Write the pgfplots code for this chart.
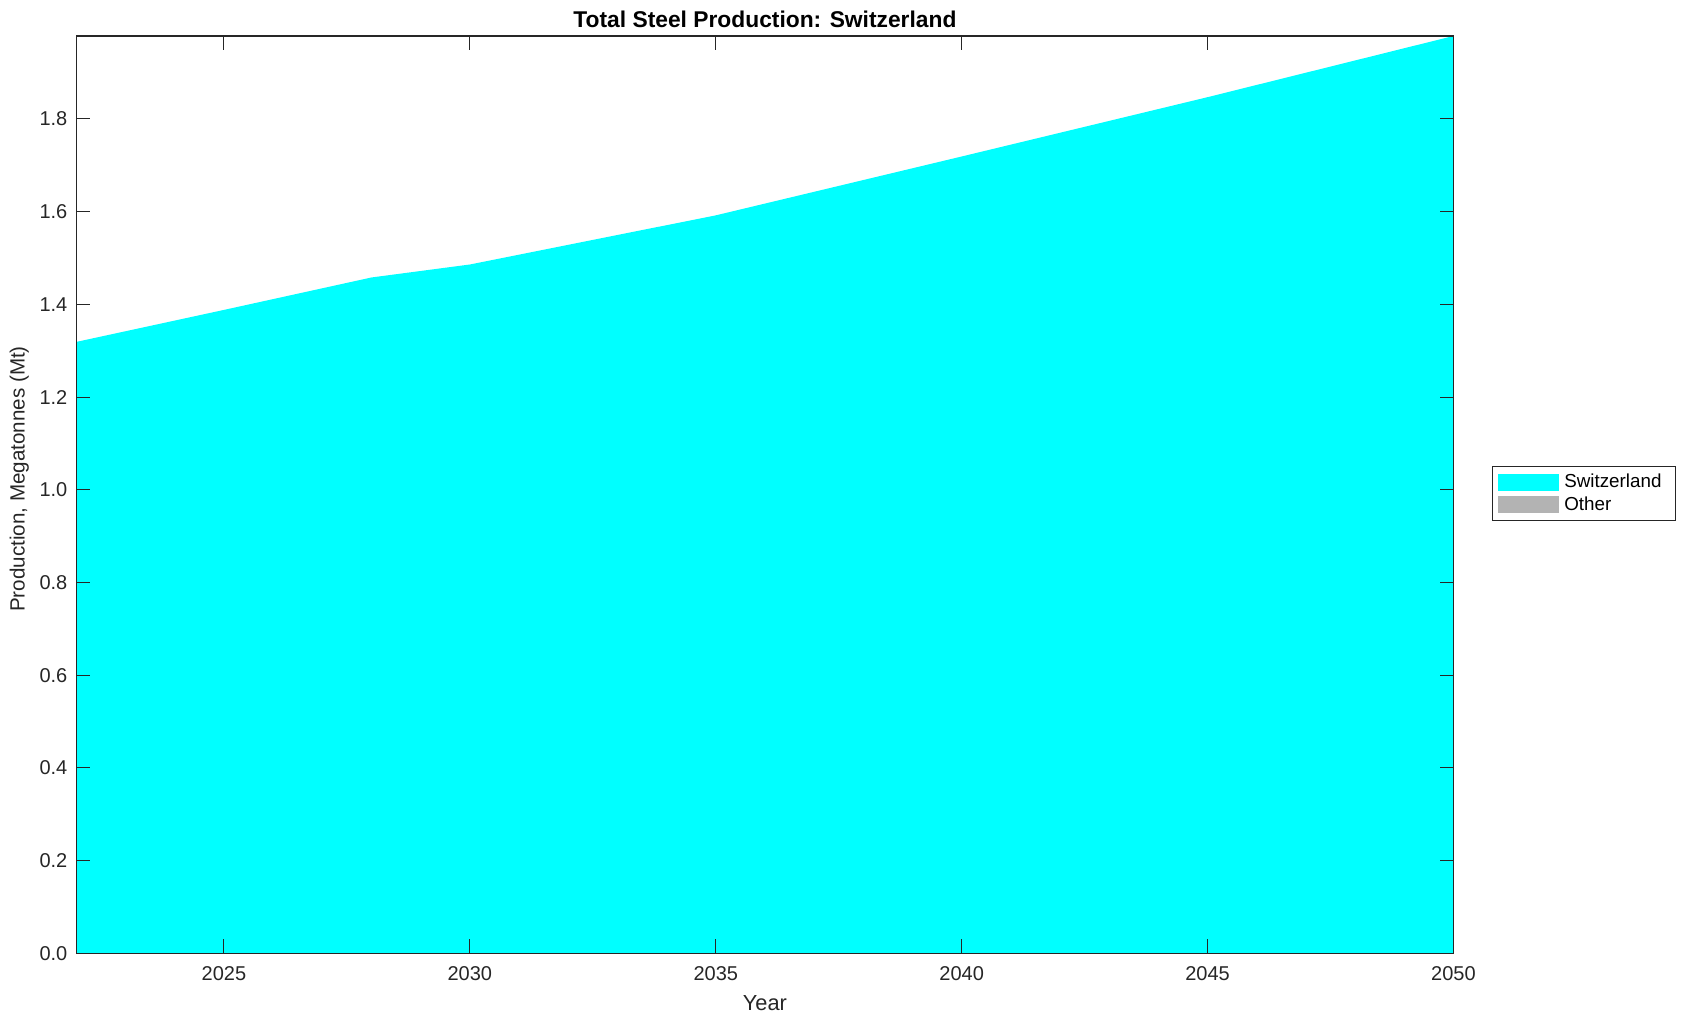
\documentclass[border=0pt]{standalone}
\usepackage{fontspec}
\setmainfont{Liberation Sans}
\usepackage{pgfplots}
\pgfplotsset{compat=1.18}
\definecolor{axgray}{RGB}{38,38,38}
\definecolor{swcyan}{RGB}{0,255,255}
\definecolor{othergray}{RGB}{179,179,179}
\begin{document}
\begin{tikzpicture}
\begin{axis}[
  scale only axis,
  width=688.5pt, height=458.6pt,
  xmin=2022, xmax=2050,
  ymin=0, ymax=1.979,
  xtick={2025,2030,...,2050},
  ytick={0,0.2,...,1.8},
  /pgf/number format/assume math mode=true,
  xticklabel style={/pgf/number format/1000 sep={}, font=\fontsize{10}{12}\selectfont, text=axgray, yshift=-3.2pt},
  yticklabel style={/pgf/number format/fixed, /pgf/number format/precision=1, /pgf/number format/fixed zerofill, font=\fontsize{10}{12}\selectfont, text=axgray, xshift=-1pt},
  tick align=inside,
  major tick length=7pt,
  tick style={axgray, line width=0.5pt},
  axis line style={axgray, line width=0.6pt},
  axis on top,
  every axis title shift=0pt,
  title={\textbf{Total Steel Production: Switzerland}},
  title style={font=\fontsize{11.4}{13}\selectfont, at={(axis description cs:0.5,1.0185)}, anchor=center},
  xlabel={Year},
  xlabel style={font=\fontsize{10.9}{12}\selectfont, text=axgray, at={(axis description cs:0.5,-0.054)}, anchor=center},
  ylabel={Production, Megatonnes (Mt)},
  ylabel style={font=\fontsize{10.3}{12}\selectfont, text=axgray, at={(axis description cs:-0.0414,0.517)}, anchor=center},
  legend cell align=left,
  legend style={at={(axis description cs:1,0.5)}, anchor=west, xshift=19.25pt, yshift=0.5pt,
    font=\fontsize{9.4}{11}\selectfont, draw=axgray, line width=0.5pt,
    inner xsep=2.8pt, inner ysep=1.5pt, row sep=-1pt,
    nodes={inner xsep=1.5pt}},
  legend image code/.code={\fill[#1] (0.8pt,-4.25pt) rectangle (31.4pt,4.25pt); \path (32.4pt,0pt);},
]
\addplot[draw=none, fill=swcyan] coordinates {
  (2022,1.319) (2025,1.388) (2028,1.458) (2030,1.486) (2035,1.592)
  (2040,1.719) (2045,1.847) (2050,1.979)
} \closedcycle;
\addlegendentry{Switzerland\rule{2.5pt}{0pt}}
\addlegendimage{fill=othergray, draw=none}
\addlegendentry{Other}
\coordinate (bbsw) at (rel axis cs:0,0);
\coordinate (bbne) at (rel axis cs:1,1);
\end{axis}
\path ([xshift=-38.2pt,yshift=-33.9pt]bbsw) rectangle ([xshift=116.75pt,yshift=18pt]bbne);
\end{tikzpicture}
\end{document}
